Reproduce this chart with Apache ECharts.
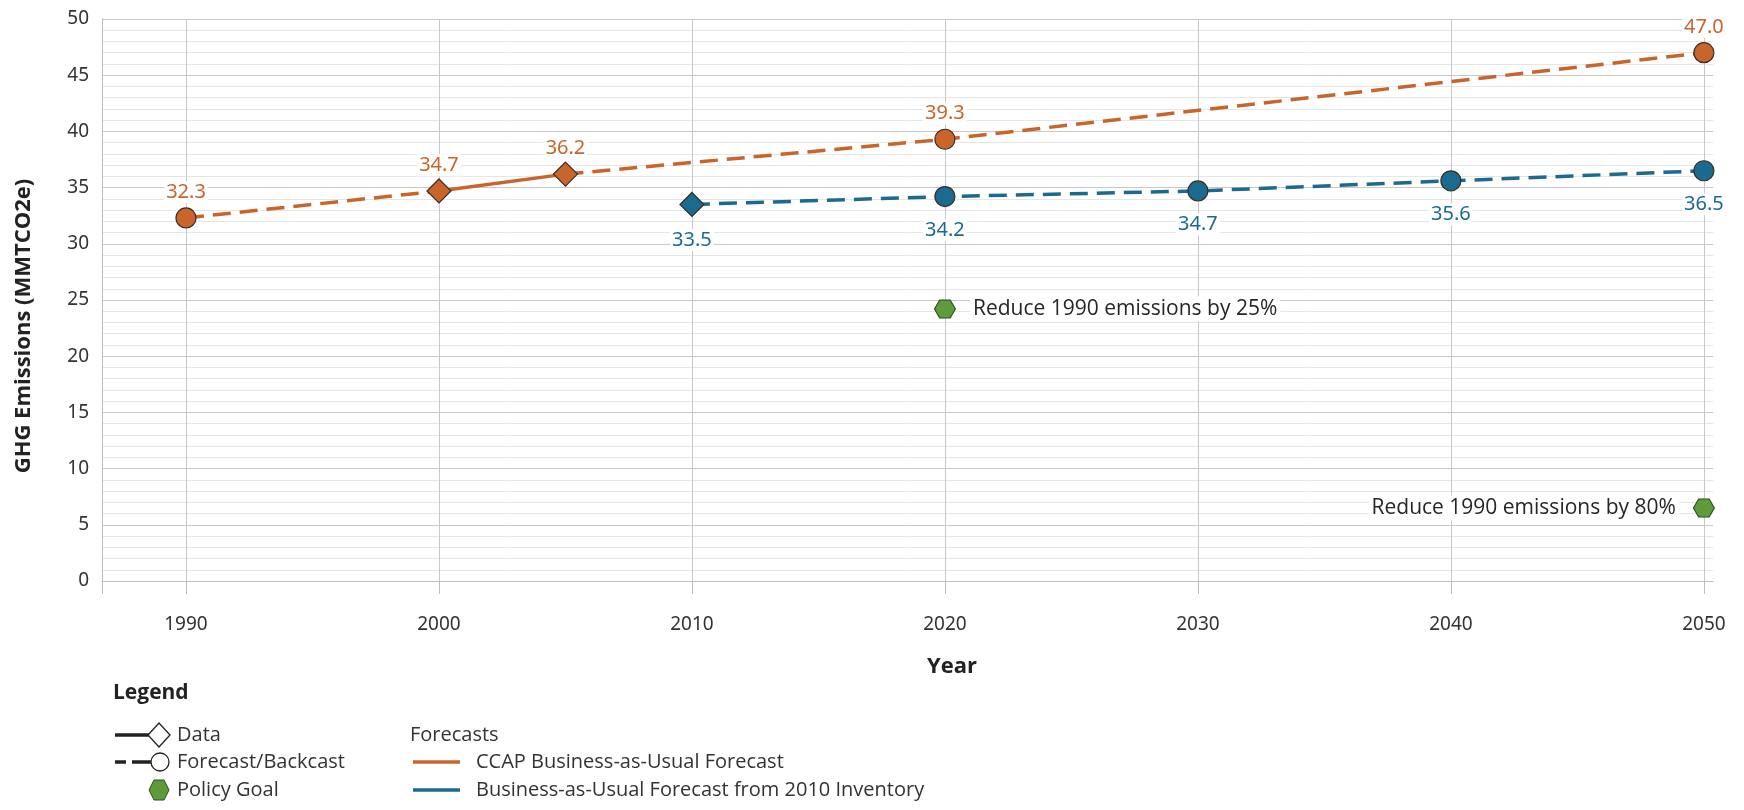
<!DOCTYPE html>
<html>
<head>
<meta charset="utf-8">
<title>GHG Emissions</title>
<script src="https://cdn.jsdelivr.net/npm/echarts@6/dist/echarts.min.js"></script>
<style>
  html, body { margin: 0; padding: 0; background: #fff; }
  #myChart { width: 1744px; height: 810px; }
</style>
</head>
<body>
<div id="myChart"></div>
<script>
// chart values
var xTickYears = [1990, 2000, 2010, 2020, 2030, 2040, 2050];

var ccapBackcastYears = [1990, 2000];
var ccapBackcastValues = [32.3, 34.7];
var ccapDataYears = [2000, 2005];
var ccapDataValues = [34.7, 36.2];
var ccapForecastYears = [2005, 2020, 2050];
var ccapForecastValues = [36.2, 39.3, 47.0];

var bauYears = [2010, 2020, 2030, 2040, 2050];
var bauValues = [33.5, 34.2, 34.7, 35.6, 36.5];

var goalYears = [2020, 2050];
var goalValues = [24.2, 6.5];
var goalLabels = ['Reduce 1990 emissions by 25%', 'Reduce 1990 emissions by 80%'];

var ORANGE = '#c9652b';
var BLUE = '#1b6a8f';
var GREEN = '#5e9b3b';
var NUM = '"Noto Sans", sans-serif';
var SANS = '"Open Sans", "Noto Sans", sans-serif';
var HEX = 'path://M-1,0 L-0.5,-0.866 L0.5,-0.866 L1,0 L0.5,0.866 L-0.5,0.866 Z';

// build point items: symbol per point, label on/off per point
function buildItems(years, values, symbols, showLabel) {
  return years.map(function (y, i) {
    return {
      value: [y, values[i]],
      symbol: symbols[i],
      symbolSize: symbols[i] === 'diamond' ? 24 : 20,
      label: { show: showLabel[i] }
    };
  });
}

function numLabel(color, position, distance) {
  return {
    position: position,
    distance: distance,
    color: color,
    fontFamily: NUM,
    fontSize: 20,
    backgroundColor: '#fff',
    padding: [1, 2],
    formatter: function (p) { return p.value[1].toFixed(1); }
  };
}

var markerBorder = { borderColor: '#3a2e26', borderWidth: 1.2, opacity: 1 };

var myChart = echarts.init(document.getElementById('myChart'));

var option = {
  animation: false,
  grid: { left: 102, right: 31, top: 19, bottom: 229 },
  xAxis: {
    type: 'value',
    min: 1986.68,
    max: 2050.36,
    axisLine: { show: true, lineStyle: { color: '#bdbdbd', width: 1 } },
    axisTick: {
      show: true, length: 13,
      customValues: [1986.68].concat(xTickYears),
      lineStyle: { color: '#bdbdbd' }
    },
    axisLabel: {
      customValues: xTickYears,
      margin: 34,
      color: '#333',
      fontFamily: NUM,
      fontSize: 19,
      formatter: function (v) { return String(Math.round(v)); }
    },
    splitLine: { show: true, lineStyle: { color: '#c8c8c8' } }
  },
  yAxis: {
    type: 'value',
    min: 0,
    max: 50,
    interval: 5,
    axisLine: { show: true, lineStyle: { color: '#bdbdbd' } },
    axisTick: { show: false },
    axisLabel: { margin: 13, color: '#333', fontFamily: NUM, fontSize: 19 },
    splitLine: { show: true, lineStyle: { color: '#c8c8c8' } },
    minorTick: { show: false, splitNumber: 5 },
    minorSplitLine: { show: true, lineStyle: { color: '#e6e6e6' } }
  },
  graphic: [
    { type: 'text', x: 24, y: 326, rotation: Math.PI / 2,
      style: { text: 'GHG Emissions (MMTCO2e)', align: 'center', verticalAlign: 'middle',
               font: 'bold 22px ' + SANS, fill: '#222' } },
    { type: 'text', x: 952, y: 667,
      style: { text: 'Year', align: 'center', verticalAlign: 'middle',
               font: 'bold 22px ' + SANS, fill: '#222' } },
    // legend block
    { type: 'text', x: 113, y: 693,
      style: { text: 'Legend', verticalAlign: 'middle', font: 'bold 21px ' + SANS, fill: '#222' } },
    { type: 'line', shape: { x1: 115, y1: 735, x2: 150, y2: 735 },
      style: { stroke: '#222', lineWidth: 3.5 } },
    { type: 'polygon', shape: { points: [[148, 735], [159, 723], [170, 735], [159, 747]] },
      style: { fill: '#fff', stroke: '#222', lineWidth: 1.3 } },
    { type: 'text', x: 177, y: 735,
      style: { text: 'Data', verticalAlign: 'middle', font: '20px ' + SANS, fill: '#333' } },
    { type: 'line', shape: { x1: 115, y1: 762, x2: 126, y2: 762 },
      style: { stroke: '#222', lineWidth: 3.5 } },
    { type: 'line', shape: { x1: 132, y1: 762, x2: 151, y2: 762 },
      style: { stroke: '#222', lineWidth: 3.5 } },
    { type: 'circle', shape: { cx: 160, cy: 762, r: 9 },
      style: { fill: '#fff', stroke: '#222', lineWidth: 1.3 } },
    { type: 'text', x: 177, y: 762,
      style: { text: 'Forecast/Backcast', verticalAlign: 'middle', font: '20px ' + SANS, fill: '#333' } },
    { type: 'polygon', shape: { points: [[149, 790], [154, 780], [164, 780], [169, 790], [164, 800], [154, 800]] },
      style: { fill: GREEN, stroke: '#2f4a1e', lineWidth: 1 } },
    { type: 'text', x: 177, y: 790,
      style: { text: 'Policy Goal', verticalAlign: 'middle', font: '20px ' + SANS, fill: '#333' } },
    { type: 'text', x: 410, y: 735,
      style: { text: 'Forecasts', verticalAlign: 'middle', font: '20px ' + SANS, fill: '#333' } },
    { type: 'line', shape: { x1: 413, y1: 762, x2: 460, y2: 762 },
      style: { stroke: ORANGE, lineWidth: 3.5 } },
    { type: 'text', x: 476, y: 762,
      style: { text: 'CCAP Business-as-Usual Forecast', verticalAlign: 'middle', font: '20px ' + SANS, fill: '#333' } },
    { type: 'line', shape: { x1: 413, y1: 790, x2: 460, y2: 790 },
      style: { stroke: BLUE, lineWidth: 3.5 } },
    { type: 'text', x: 476, y: 790,
      style: { text: 'Business-as-Usual Forecast from 2010 Inventory', verticalAlign: 'middle', font: '20px ' + SANS, fill: '#333' } }
  ],
  series: [
    {
      name: 'CCAP Backcast',
      type: 'line',
      data: buildItems(ccapBackcastYears, ccapBackcastValues, ['circle', 'none'], [true, false]),
      lineStyle: { color: ORANGE, width: 3.5, type: [18, 9] },
      itemStyle: Object.assign({ color: ORANGE }, markerBorder),
      label: numLabel(ORANGE, 'top', 4),
      z: 3
    },
    {
      name: 'CCAP Data',
      type: 'line',
      data: buildItems(ccapDataYears, ccapDataValues, ['diamond', 'diamond'], [true, true]),
      lineStyle: { color: ORANGE, width: 3.5 },
      itemStyle: Object.assign({ color: ORANGE }, markerBorder),
      label: numLabel(ORANGE, 'top', 2),
      z: 4
    },
    {
      name: 'CCAP Business-as-Usual Forecast',
      type: 'line',
      data: buildItems(ccapForecastYears, ccapForecastValues, ['none', 'circle', 'circle'], [false, true, true]),
      lineStyle: { color: ORANGE, width: 3.5, type: [18, 9] },
      itemStyle: Object.assign({ color: ORANGE }, markerBorder),
      label: numLabel(ORANGE, 'top', 4),
      z: 3
    },
    {
      name: 'Business-as-Usual Forecast from 2010 Inventory',
      type: 'line',
      data: buildItems(bauYears, bauValues, ['diamond', 'circle', 'circle', 'circle', 'circle'], [true, true, true, true, true]),
      lineStyle: { color: BLUE, width: 3.5, type: [18, 9] },
      itemStyle: Object.assign({ color: BLUE }, markerBorder),
      label: numLabel(BLUE, 'bottom', 12),
      z: 3
    },
    {
      name: 'Policy Goal',
      type: 'scatter',
      symbol: HEX,
      symbolSize: [21, 18],
      data: goalYears.map(function (y, i) {
        return {
          value: [y, goalValues[i]],
          name: goalLabels[i],
          label: { position: i === 0 ? 'right' : 'left' }
        };
      }),
      itemStyle: { color: GREEN, borderColor: '#2f4a1e', borderWidth: 1, opacity: 1 },
      label: {
        show: true,
        distance: 14,
        color: '#262626',
        fontFamily: SANS,
        fontSize: 21,
        backgroundColor: '#fff',
        padding: [2, 3],
        formatter: function (p) { return p.name; }
      },
      z: 5
    }
  ]
};

myChart.setOption(option);
</script>
</body>
</html>
